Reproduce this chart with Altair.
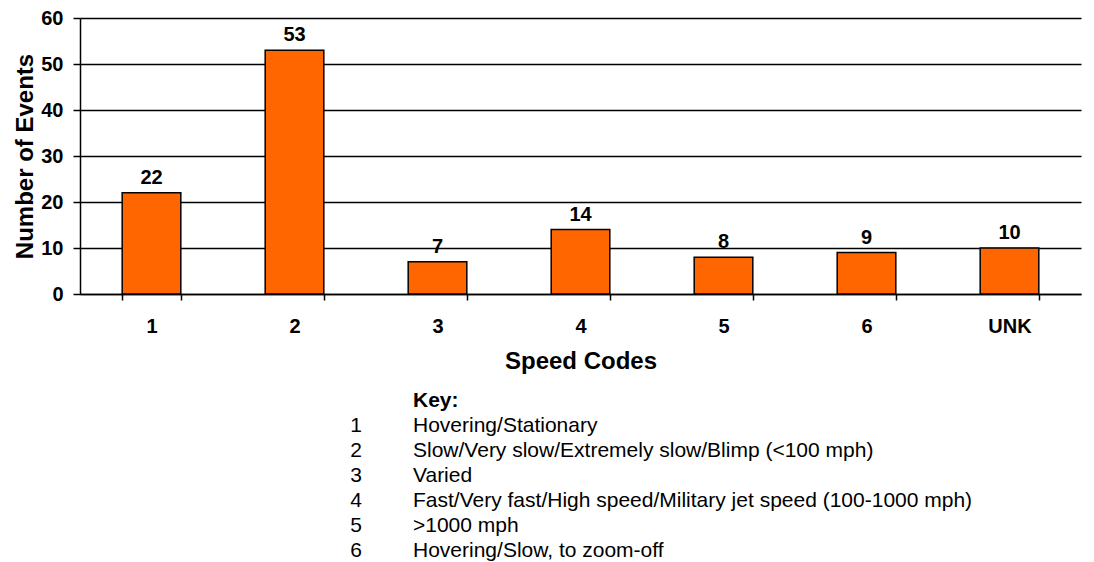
import altair as alt
import pandas as pd

codes = ["1", "2", "3", "4", "5", "6", "UNK"]
events = [22, 53, 7, 14, 8, 9, 10]

key_codes = ["1", "2", "3", "4", "5", "6"]
key_desc = [
    "Hovering/Stationary",
    "Slow/Very slow/Extremely slow/Blimp (<100 mph)",
    "Varied",
    "Fast/Very fast/High speed/Military jet speed (100-1000 mph)",
    ">1000 mph",
    "Hovering/Slow, to zoom-off",
]

FONT = "Arial, Liberation Sans, sans-serif"

df = pd.DataFrame({"code": codes, "events": events})

x_enc = alt.X(
    "code:N",
    sort=codes,
    title="Speed Codes",
    scale=alt.Scale(paddingInner=0.59, paddingOuter=0.295),
    axis=alt.Axis(
        labelAngle=0,
        labelFont=FONT,
        labelFontSize=20,
        labelFontWeight="bold",
        labelColor="black",
        labelPadding=16,
        titleFont=FONT,
        titleFontSize=24,
        titleFontWeight="bold",
        titleColor="black",
        titlePadding=13,
        tickBand="extent",
        tickExtra=False,
        tickColor="black",
        tickWidth=1.5,
        tickSize=6,
        domainColor="black",
        domainWidth=1.5,
        grid=False,
    ),
)

y_enc = alt.Y(
    "events:Q",
    title="Number of Events",
    scale=alt.Scale(domain=[0, 60]),
    axis=alt.Axis(
        values=[0, 10, 20, 30, 40, 50, 60],
        labelFont=FONT,
        labelFontSize=20,
        labelFontWeight="bold",
        labelColor="black",
        labelPadding=10,
        titleFont=FONT,
        titleFontSize=24,
        titleFontWeight="bold",
        titleColor="black",
        titlePadding=3,
        tickColor="black",
        tickWidth=1.5,
        tickSize=7,
        domainColor="black",
        domainWidth=1.5,
        grid=True,
        gridColor="black",
        gridWidth=1.5,
        gridOpacity=1,
    ),
)

bars = alt.Chart(df).mark_bar(
    color="#FF6600", stroke="black", strokeWidth=1.5
).encode(x=x_enc, y=y_enc)

labels = alt.Chart(df).mark_text(
    font=FONT, fontSize=20, fontWeight="bold", color="black",
    baseline="bottom", dy=-5
).encode(x=alt.X("code:N", sort=codes), y="events:Q", text="events:Q")

main = alt.layer(bars, labels).properties(width=1001, height=276)

kdf = pd.DataFrame({"row": list(range(1, 7)), "code": key_codes, "desc": key_desc})
hdf = pd.DataFrame({"row": [0], "desc": ["Key:"]})

ky = alt.Y("row:O", axis=None,
           scale=alt.Scale(domain=list(range(7)), paddingInner=0, paddingOuter=0))

key_head = alt.Chart(hdf).mark_text(
    font=FONT, fontSize=21, fontWeight="bold", color="black", align="left", baseline="middle"
).encode(x=alt.value(333), y=ky, text="desc:N")

key_codes_t = alt.Chart(kdf).mark_text(
    font=FONT, fontSize=21, color="black", align="center", baseline="middle"
).encode(x=alt.value(276), y=ky, text="code:N")

key_desc_t = alt.Chart(kdf).mark_text(
    font=FONT, fontSize=21, color="black", align="left", baseline="middle"
).encode(x=alt.value(333), y=ky, text="desc:N")

key = alt.layer(key_head, key_codes_t, key_desc_t).properties(width=1001, height=175)

chart = alt.vconcat(main, key, spacing=15).configure(
    background="white"
).configure_view(strokeWidth=0, stroke="transparent").properties(
    padding={"left": 5, "top": 0, "right": 5, "bottom": 5}
)

chart.save("out.html", embed_options={"renderer": "svg", "actions": False})
